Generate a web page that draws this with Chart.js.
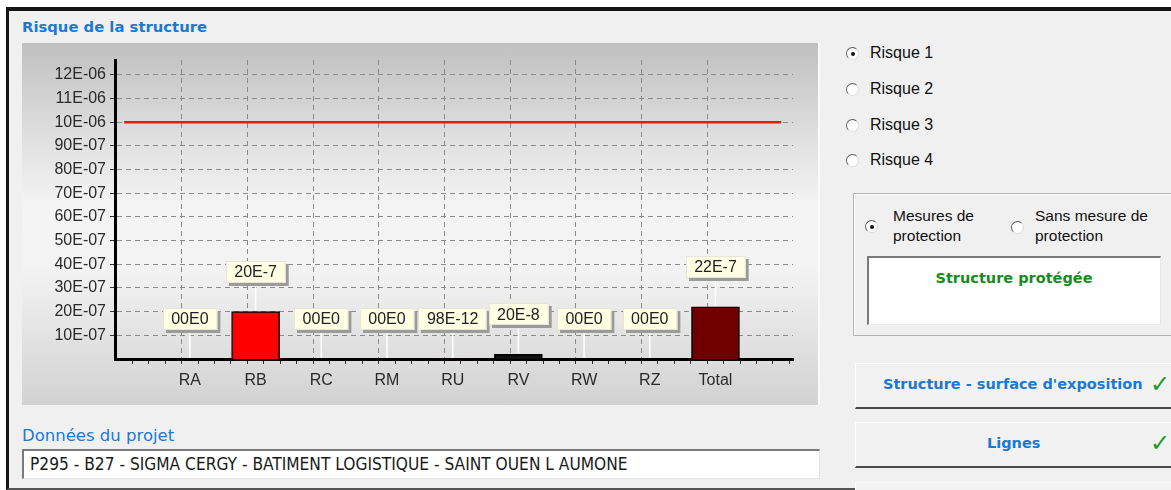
<!DOCTYPE html>
<html>
<head>
<meta charset="utf-8">
<script src="https://cdn.jsdelivr.net/npm/chart.js@4/dist/chart.umd.min.js"></script>
<style>
    body { margin: 0; width: 1171px; height: 490px; background: #fff; overflow: hidden; position: relative;
           font-family: "Liberation Sans", Arial, sans-serif; }
    .abs { position: absolute; }
    #window { left: 6px; top: 7px; width: 1165px; height: 483px; box-sizing: border-box; background: #f0f0f0;
              border-top: 4px solid #151515; border-left: 3px solid #151515; border-bottom: 2px solid #555; }
    .blueTitle { color: #1b79d3; font-weight: bold; font-size: 14.8px; white-space: nowrap;
                 font-family: "DejaVu Sans", sans-serif; }
    #panel { left: 22px; top: 43px; width: 798px; height: 362px;
             background: linear-gradient(to bottom, #c0c0c0 0%, #dedede 25%, #f4f4f4 45%, #f3f3f3 62%, #d2d2d2 100%);
             border-right: 2px solid #fafafa; box-sizing: border-box; }
    .radio { width: 13px; height: 13px; border-radius: 50%; background: #fff; box-sizing: border-box;
             border: 1px solid; border-color: #5e5e5e #dcdcdc #dcdcdc #5e5e5e; }
    .radio.on::after { content: ""; position: absolute; left: 3.5px; top: 3.5px; width: 4px; height: 4px;
                       border-radius: 50%; background: #111; }
    .lbl { font-size: 16px; color: #111; white-space: nowrap; }
    .btn { left: 855px; width: 330px; height: 46px; box-sizing: border-box; background: #f2f2f2;
           border-top: 1px solid #fff; border-left: 1px solid #fff; border-bottom: 2px solid #4a4a4a; }
    .btnText { position: absolute; top: 12px; color: #1b79d3; font-weight: bold; font-size: 14.5px; white-space: nowrap;
               font-family: "DejaVu Sans", sans-serif; }
    .check { position: absolute; top: 6px; color: #1f9a2a; font-size: 24px; font-family: "DejaVu Sans", sans-serif; }
</style>
</head>
<body>
<div id="window" class="abs"></div>

<div class="abs blueTitle" style="left:22px; top:18px;">Risque de la structure</div>

<div id="panel" class="abs">
    <canvas id="riskChart"></canvas>
</div>

<!-- risk selector -->
<div class="abs radio on" style="left:846px; top:47px;"></div>
<div class="abs lbl" style="left:870px; top:44px;">Risque 1</div>
<div class="abs radio" style="left:846px; top:83px;"></div>
<div class="abs lbl" style="left:870px; top:80px;">Risque 2</div>
<div class="abs radio" style="left:846px; top:119px;"></div>
<div class="abs lbl" style="left:870px; top:116px;">Risque 3</div>
<div class="abs radio" style="left:846px; top:154px;"></div>
<div class="abs lbl" style="left:870px; top:151px;">Risque 4</div>

<!-- protection group -->
<div class="abs" style="left:853px; top:193px; width:330px; height:143px; box-sizing:border-box;
     border:1px solid #b4b4b4; box-shadow: inset 1px 1px 0 #fff;"></div>
<div class="abs radio on" style="left:865px; top:220px;"></div>
<div class="abs lbl" style="left:893px; top:206px; line-height:20px; font-size:15.5px;">Mesures de<br>protection</div>
<div class="abs radio" style="left:1011px; top:221px;"></div>
<div class="abs lbl" style="left:1035px; top:206px; line-height:20px; font-size:15.5px;">Sans mesure de<br>protection</div>
<div class="abs" style="left:867px; top:256px; width:294px; height:69px; box-sizing:border-box; background:#fff;
     border-top:2px solid #7a7a7a; border-left:2px solid #7a7a7a; border-right:1px solid #e8e8e8; border-bottom:1px solid #e8e8e8;"></div>
<div class="abs" style="left:867px; top:270px; width:294px; text-align:center; color:#168c1e; font-weight:bold; font-size:14.5px;
     font-family:'DejaVu Sans',sans-serif;">Structure protégée</div>

<!-- buttons -->
<div class="abs btn" style="top:363px;">
    <span class="btnText" style="left:27px;">Structure - surface d'exposition</span>
    <span class="check" style="left:294px;">✓</span>
</div>
<div class="abs btn" style="top:422px;">
    <span class="btnText" style="left:131px;">Lignes</span>
    <span class="check" style="left:294px;">✓</span>
</div>
<div class="abs btn" style="top:482px; border-bottom:none;"></div>

<!-- project data -->
<div class="abs blueTitle" style="left:22px; top:426px; font-weight:normal; font-family:'DejaVu Sans',sans-serif; font-size:16.5px;">Données du projet</div>
<div class="abs" style="left:22px; top:449px; width:798px; height:30px; box-sizing:border-box; background:#fff;
     border-top:2px solid #7a7a7a; border-left:2px solid #7a7a7a; border-right:1px solid #e4e4e4; border-bottom:1px solid #e4e4e4;"></div>
<div class="abs lbl" style="left:30px; top:454px; font-family:'DejaVu Sans Condensed','DejaVu Sans',sans-serif; font-size:17.2px; color:#1a1a1a;">P295 - B27 - SIGMA CERGY - BATIMENT LOGISTIQUE - SAINT OUEN L AUMONE</div>

<script>
// risk components and their values
const categories = ['RA', 'RB', 'RC', 'RM', 'RU', 'RV', 'RW', 'RZ', 'Total'];
const riskValues = [0, 2.0e-6, 0, 0, 9.8e-11, 2.0e-7, 0, 0, 2.2e-6];
const barColors = ['#ff0000', '#ff0000', '#ff0000', '#ff0000', '#ff0000', '#111111', '#ff0000', '#ff0000', '#700000'];

// tolerable risk line
const limitX = [0, 10];
const limitValue = [1.0e-5, 1.0e-5];

// y axis ticks as shown by the app
const yTickValues = [1e-6, 2e-6, 3e-6, 4e-6, 5e-6, 6e-6, 7e-6, 8e-6, 9e-6, 10e-6, 11e-6, 12e-6];
const yTickLabels = ['10E-07', '20E-07', '30E-07', '40E-07', '50E-07', '60E-07', '70E-07', '80E-07', '90E-07', '10E-06', '11E-06', '12E-06'];

const labelFont = '16px "Liberation Sans", Arial, sans-serif';

// 2.0e-6 -> "20E-7", 0 -> "00E0"
function formatRisk(v) {
    if (v === 0) return '00E0';
    const parts = v.toExponential(1).split('e');
    return parts[0].replace('.', '') + 'E' + (parseInt(parts[1], 10) - 1);
}

const valueBoxes = {
    id: 'valueBoxes',
    afterDatasetsDraw(chart) {
        const ctx = chart.ctx;
        const meta = chart.getDatasetMeta(0);
        ctx.save();
        ctx.font = labelFont;
        meta.data.forEach((bar, i) => {
            const text = formatRisk(riskValues[i]);
            const w = ctx.measureText(text).width + 17;
            const h = 22;
            const cy = bar.y - 40;
            const left = Math.round(bar.x - w / 2);
            const top = Math.round(cy - h / 2);

            // white leader line down to the bar
            ctx.strokeStyle = '#ffffff';
            ctx.lineWidth = 1.5;
            ctx.beginPath();
            ctx.moveTo(bar.x, top + h);
            ctx.lineTo(bar.x, bar.y - 1);
            ctx.stroke();

            ctx.fillStyle = '#9b9b9b';
            ctx.fillRect(left + 3, top + 3, w, h);
            ctx.fillStyle = '#ffffe4';
            ctx.fillRect(left, top, w, h);
            ctx.strokeStyle = '#e6e6d8';
            ctx.lineWidth = 1;
            ctx.strokeRect(left + 0.5, top + 0.5, w - 1, h - 1);

            ctx.fillStyle = '#222';
            ctx.textAlign = 'center';
            ctx.textBaseline = 'middle';
            ctx.fillText(text, bar.x, cy + 1);
        });
        ctx.restore();
    }
};

const ctx = document.getElementById('riskChart');
new Chart(ctx, {
    type: 'bar',
    data: {
        datasets: [{
            type: 'bar',
            data: riskValues.map((v, i) => ({ x: i + 1, y: v })),
            backgroundColor: barColors,
            borderColor: '#000',
            borderWidth: 1.5,
            barThickness: 48,
            order: 2
        }, {
            type: 'line',
            data: limitX.map((x, i) => ({ x: x, y: limitValue[i] })),
            borderColor: '#ff1010',
            borderWidth: 2.5,
            pointRadius: 0,
            order: 1
        }]
    },
    options: {
        responsive: true,
        maintainAspectRatio: false,
        animation: false,
        layout: { padding: { left: 0, top: 17, right: 25, bottom: 0 } },
        plugins: {
            legend: { display: false },
            tooltip: { enabled: false }
        },
        scales: {
            x: {
                type: 'linear',
                offset: false,
                min: -0.14,
                max: 10.18,
                afterBuildTicks: scale => {
                    const t = [];
                    for (let i = 1; i <= 40; i++) t.push({ value: i / 4 });
                    scale.ticks = t;
                },
                afterFit: scale => { scale.height = 46; },
                ticks: {
                    autoSkip: false,
                    maxRotation: 0,
                    padding: 7,
                    color: '#2a2a2a',
                    font: { family: '"Liberation Sans", Arial, sans-serif', size: 16 },
                    callback: v => (Number.isInteger(v) && v >= 1 && v <= categories.length) ? categories[v - 1] : ''
                },
                grid: {
                    color: c => (c.tick && Number.isInteger(c.tick.value) && c.tick.value >= 1 && c.tick.value <= 9) ? '#8a8a8a' : 'rgba(0,0,0,0)',
                    tickColor: '#333',
                    tickLength: 5,
                    tickBorderDash: [],
                    lineWidth: 1
                },
                border: { color: '#000', width: 3, dash: [5, 4] }
            },
            y: {
                min: 0,
                max: 1.263e-5,
                afterBuildTicks: scale => {
                    scale.ticks = yTickValues.map(v => ({ value: v }));
                },
                afterFit: scale => { scale.width = 93; },
                ticks: {
                    padding: 4,
                    color: '#2a2a2a',
                    font: { family: '"Liberation Sans", Arial, sans-serif', size: 16 },
                    callback: (v, i) => yTickLabels[i]
                },
                grid: {
                    color: '#8a8a8a',
                    tickColor: '#333',
                    tickLength: 5,
                    tickBorderDash: [],
                    lineWidth: 1
                },
                border: { color: '#000', width: 3, dash: [5, 4] }
            }
        }
    },
    plugins: [valueBoxes]
});
</script>
</body>
</html>
